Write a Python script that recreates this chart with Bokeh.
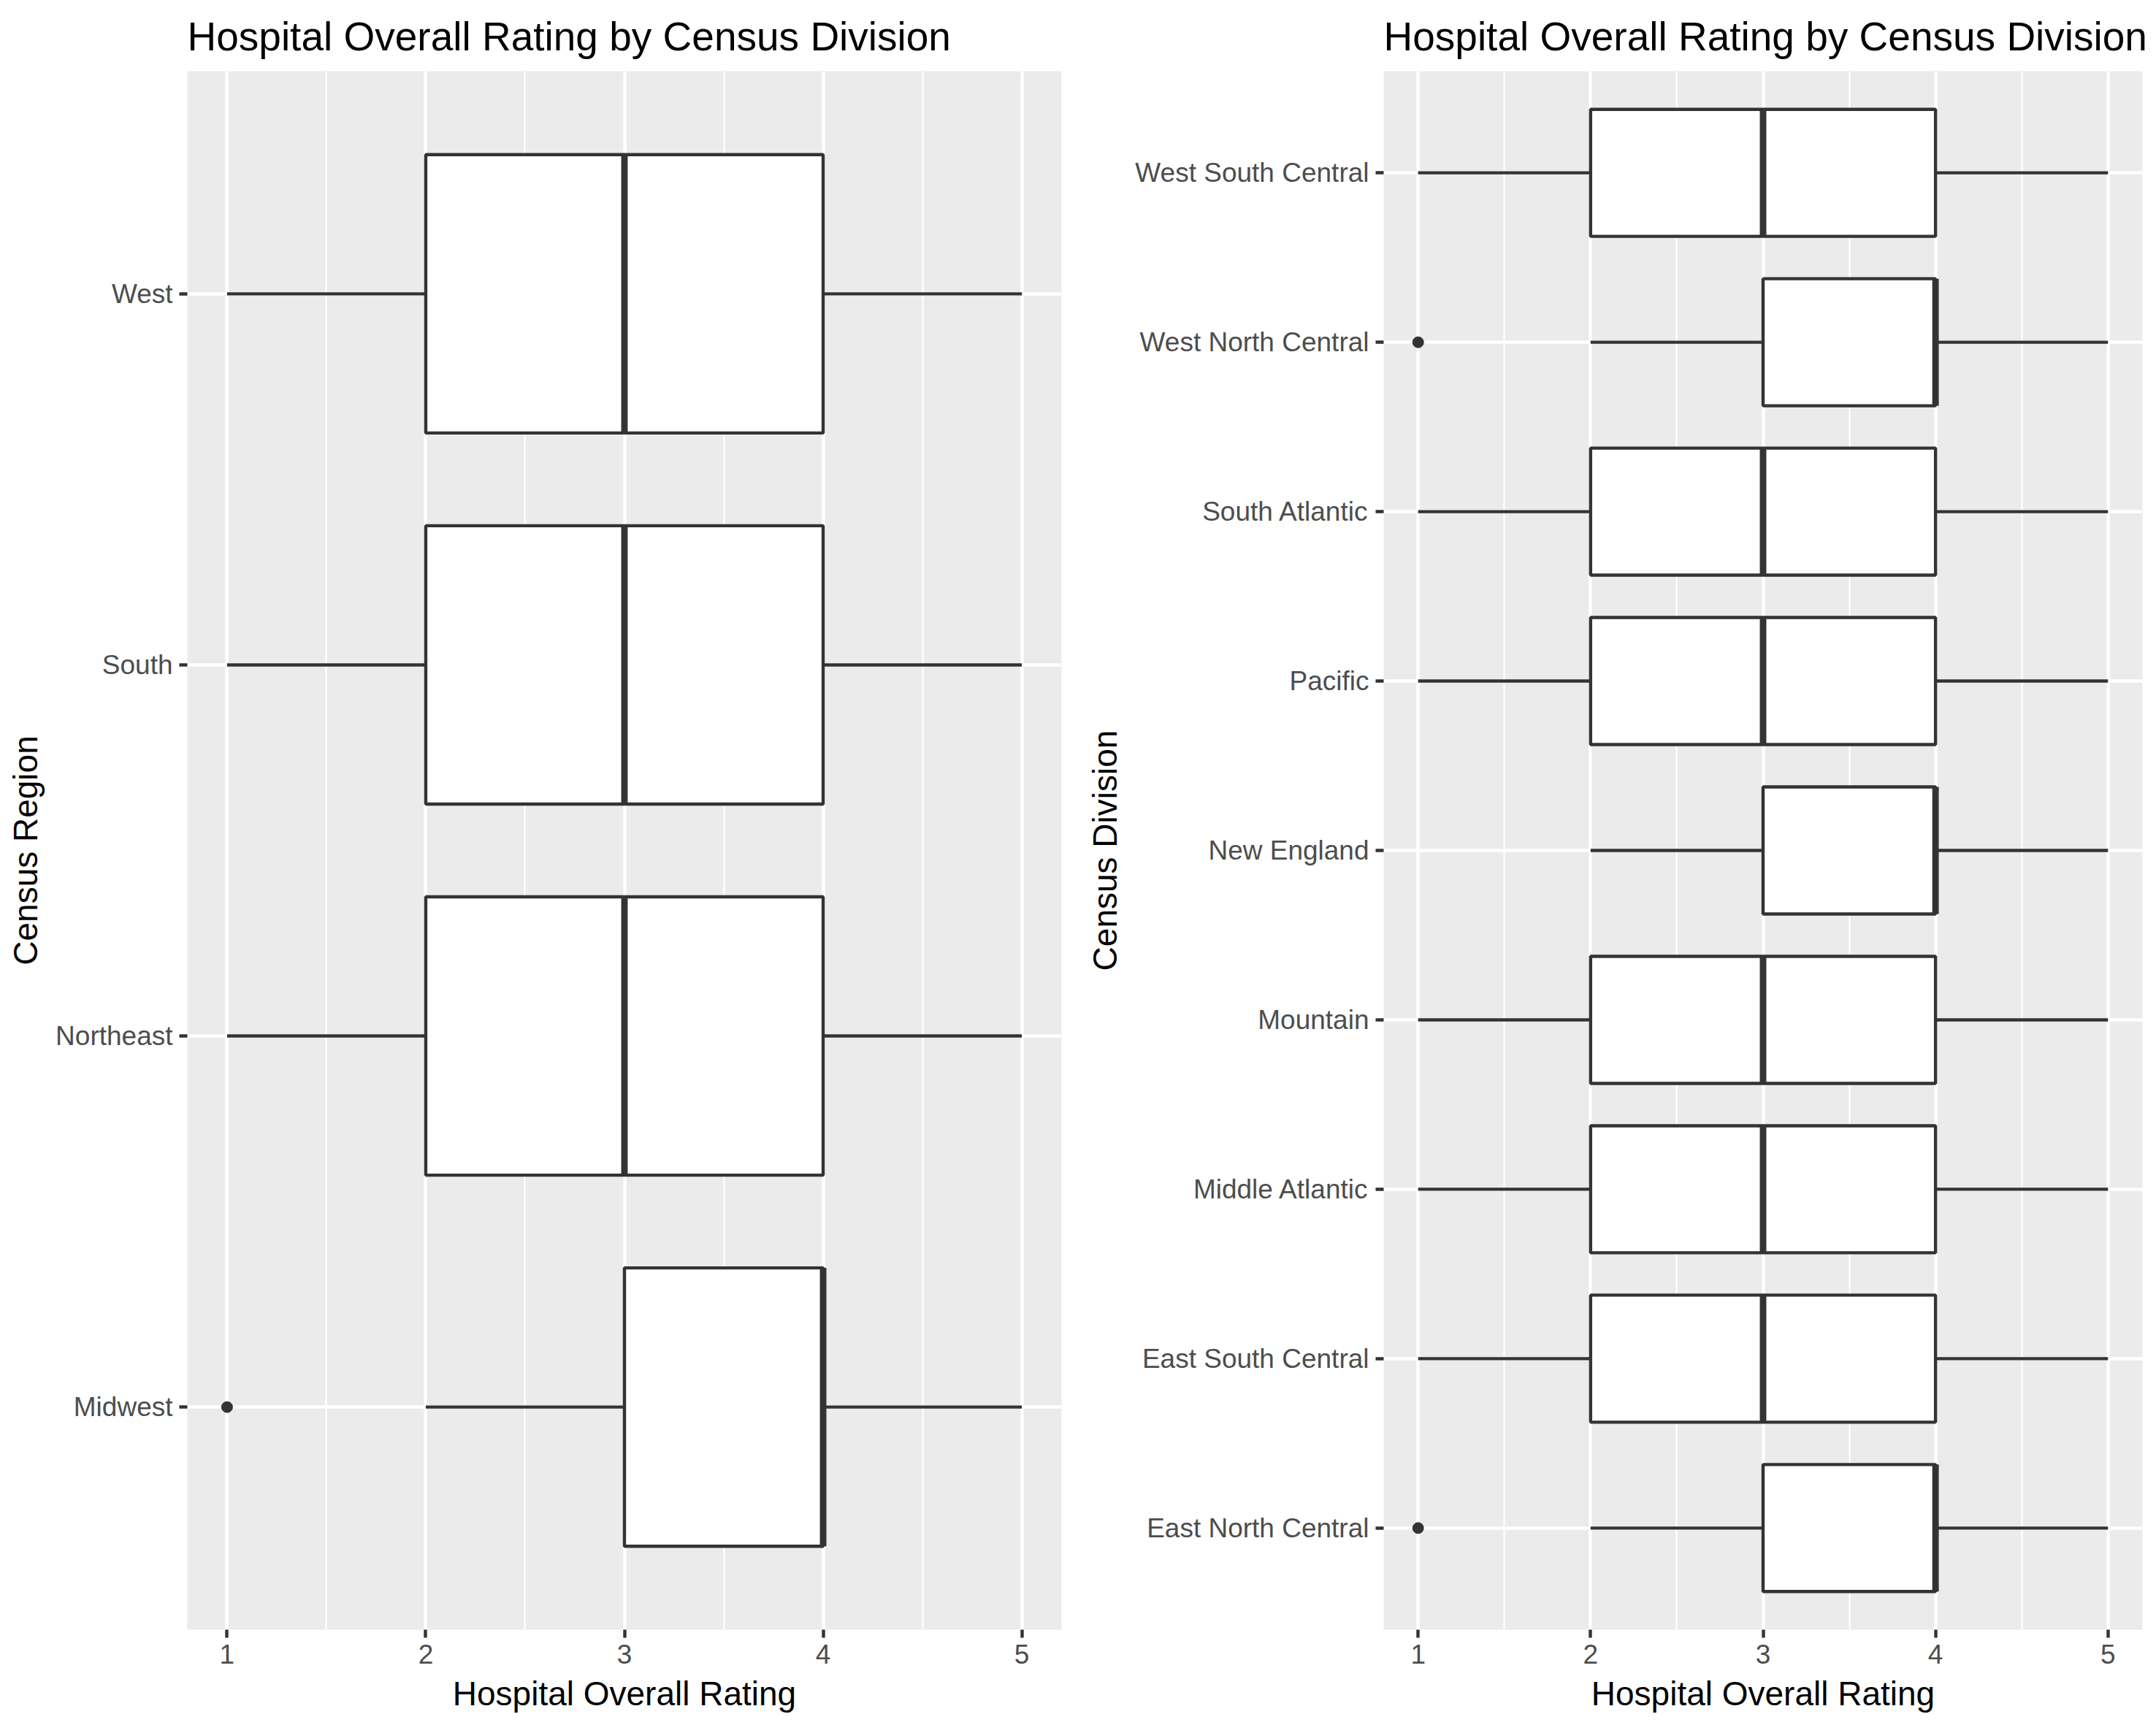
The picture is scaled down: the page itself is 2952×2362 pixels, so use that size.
from bokeh.plotting import figure
from bokeh.layouts import row
from bokeh.models import FactorRange, Range1d, FixedTicker, ColumnDataSource
from bokeh.embed import file_html
from bokeh.resources import INLINE

TITLE = "Hospital Overall Rating by Census Division"
X_LABEL = "Hospital Overall Rating"
x_ticks = [1, 2, 3, 4, 5]
x_minor = [1.5, 2.5, 3.5, 4.5]

# Left panel: Census Region (bottom to top)
region_cats = ["Midwest", "Northeast", "South", "West"]
region_lower = [2, 1, 1, 1]
region_q1 = [3, 2, 2, 2]
region_median = [4, 3, 3, 3]
region_q3 = [4, 4, 4, 4]
region_upper = [5, 5, 5, 5]
region_out_cat = ["Midwest"]
region_out_val = [1]

# Right panel: Census Division (bottom to top)
division_cats = ["East North Central", "East South Central", "Middle Atlantic",
                 "Mountain", "New England", "Pacific", "South Atlantic",
                 "West North Central", "West South Central"]
division_lower = [2, 1, 1, 1, 2, 1, 1, 2, 1]
division_q1 = [3, 2, 2, 2, 3, 2, 2, 3, 2]
division_median = [4, 3, 3, 3, 4, 3, 3, 4, 3]
division_q3 = [4, 4, 4, 4, 4, 4, 4, 4, 4]
division_upper = [5, 5, 5, 5, 5, 5, 5, 5, 5]
division_out_cat = ["East North Central", "West North Central"]
division_out_val = [1, 1]

FONT = "Liberation Sans"
LINE = "#333333"
BOX_W = 0.75


def make_panel(cats, lower, q1, med, q3, upper, out_cat, out_val, ylabel,
               width, border_left, border_right):
    p = figure(width=width, height=2362, output_backend="svg", toolbar_location=None,
               x_range=Range1d(0.8, 5.2),
               y_range=FactorRange(factors=cats, range_padding=0.1,
                                   range_padding_units="absolute"),
               min_border_left=border_left, min_border_right=border_right,
               min_border_top=97, min_border_bottom=131,
               title=TITLE)
    p.background_fill_color = "#EBEBEB"
    p.border_fill_color = "white"
    p.outline_line_color = None

    p.title.text_font = FONT
    p.title.text_font_size = "55px"
    p.title.text_font_style = "normal"
    p.title.text_color = "black"
    p.title.align = "left"
    p.title.standoff = 33

    ticker = FixedTicker(ticks=x_ticks, minor_ticks=x_minor)
    p.xaxis.ticker = ticker
    p.xgrid.ticker = ticker
    p.xgrid.grid_line_color = "white"
    p.xgrid.grid_line_width = 4.4
    p.xgrid.minor_grid_line_color = "white"
    p.xgrid.minor_grid_line_width = 2.2
    p.ygrid.grid_line_color = "white"
    p.ygrid.grid_line_width = 4.4

    for ax in (p.xaxis, p.yaxis):
        ax.axis_line_color = None
        ax.major_tick_line_color = LINE
        ax.major_tick_line_width = 4.4
        ax.major_tick_in = 0
        ax.major_tick_out = 11
        ax.minor_tick_line_color = None
        ax.major_label_text_font = FONT
        ax.major_label_text_font_size = "37px"
        ax.major_label_text_color = "#4D4D4D"
        ax.axis_label_text_font = FONT
        ax.axis_label_text_font_size = "46px"
        ax.axis_label_text_font_style = "normal"
        ax.axis_label_text_color = "black"
        ax.major_label_standoff = 9
        ax.axis_label_standoff = 12
    p.xaxis.axis_label = X_LABEL
    p.yaxis.axis_label = ylabel

    src = ColumnDataSource(dict(
        cat=cats, lower=lower, q1=q1, med=med, q3=q3, upper=upper,
        top=[(c, BOX_W / 2) for c in cats],
        bot=[(c, -BOX_W / 2) for c in cats],
    ))
    p.segment(x0="lower", y0="cat", x1="q1", y1="cat", source=src,
              line_color=LINE, line_width=4.4)
    p.segment(x0="q3", y0="cat", x1="upper", y1="cat", source=src,
              line_color=LINE, line_width=4.4)
    p.hbar(y="cat", left="q1", right="q3", height=BOX_W, source=src,
           fill_color="white", line_color=LINE, line_width=4.4)
    p.segment(x0="med", y0="bot", x1="med", y1="top", source=src,
              line_color=LINE, line_width=8.9)
    p.scatter(x=out_val, y=out_cat, size=15, fill_color=LINE, line_color=LINE)
    return p


p1 = make_panel(region_cats, region_lower, region_q1, region_median, region_q3,
                region_upper, region_out_cat, region_out_val, "Census Region",
                1476, 256, 23)
p2 = make_panel(division_cats, division_lower, division_q1, division_median,
                division_q3, division_upper, division_out_cat, division_out_val,
                "Census Division", 1476, 418, 19)

layout = row(p1, p2)
open("out.html", "w").write(file_html(layout, INLINE))
